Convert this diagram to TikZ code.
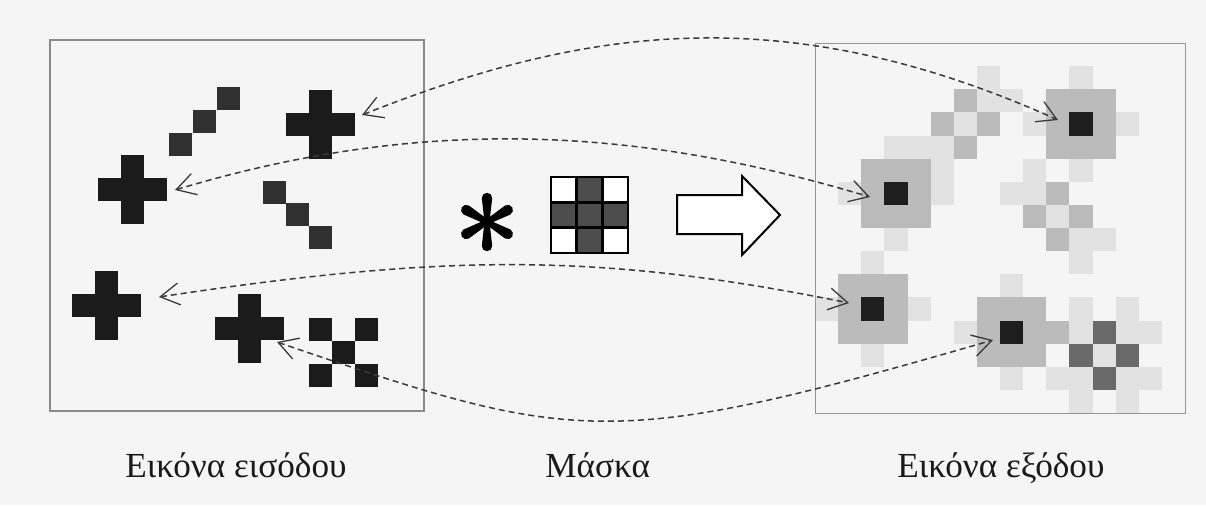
\documentclass[tikz,border=0pt]{standalone}
\usepackage{fontspec}
\setmainfont{Liberation Serif}
\usetikzlibrary{arrows.meta}
\definecolor{bg}{HTML}{F5F5F5}
\definecolor{inblack}{HTML}{1B1B1B}
\definecolor{instair}{HTML}{303030}
\definecolor{vone}{HTML}{E2E2E2}
\definecolor{vtwo}{HTML}{BBBBBB}
\definecolor{vthree}{HTML}{6A6A6A}
\definecolor{vfive}{HTML}{1E1E1E}
\definecolor{maskgray}{HTML}{4D4D4D}
\definecolor{boxgray}{HTML}{8A8A8A}
\definecolor{linkgray}{HTML}{3A3A3A}
\definecolor{txt}{HTML}{1A1A1A}
\newcommand\incell[3]{\fill[#3] (#1,#2) rectangle ++(23,23);}
\newcommand\inplus[3]{\foreach \dx/\dy in {0/0,-23/0,23/0,0/-23,0/23}{\fill[#3] ({#1+\dx},{#2+\dy}) rectangle ++(23,23);}}
\newcommand\outcell[3]{\fill[#3] ({815+(#1)*23.125},{43+(#2)*23.125}) rectangle ++(23.125,23.125);}
\tikzset{
  panel/.style={draw=boxgray, line width=0.7pt},
  link/.style={draw=linkgray, line width=0.75pt, dash pattern=on 3pt off 2pt,
    >={Straight Barb[length=9.5pt,width=11pt,line width=0.65pt]}, <->},
  lbl/.style={font=\fontsize{17.6}{21}\selectfont, inner sep=0pt, text=txt},
  maskline/.style={draw=black, line width=1.3pt},
}
\begin{document}
\begin{tikzpicture}[x=0.5pt,y=-0.5pt]
\useasboundingbox (0,0) rectangle (1206,505);
\fill[bg] (0,0) rectangle (1206,505);

% ---------- input image ----------
\foreach \x/\y in {169/133,193/110,217/87,263/181,286/203,309/226}{\incell{\x}{\y}{instair}}
\inplus{309}{113}{inblack}
\inplus{121}{178}{inblack}
\inplus{95}{294}{inblack}
\inplus{238}{317}{inblack}
\foreach \x/\y in {309/318,355/318,332/341,309/364,355/364}{\incell{\x}{\y}{inblack}}
\draw[panel] (50,40) rectangle (424,411);

% ---------- output image ----------
\foreach \cx/\cy in {11/3,3/6,2/11,8/12}{
  \foreach \i in {-1,0,1}{\foreach \j in {-1,0,1}{\outcell{\cx+\i}{\cy+\j}{vtwo}}}
  \outcell{\cx}{\cy}{vfive}
}
\foreach \c/\r in {6/4,5/3,7/3,6/2,10/6,9/7,11/7,10/8,10/12}{\outcell{\c}{\r}{vtwo}}
\foreach \c/\r in {12/12,11/13,13/13,12/14}{\outcell{\c}{\r}{vthree}}
\foreach \c/\r in {11/1,9/3,13/3,11/5, 3/4,1/6,5/6,3/8, 2/9,0/11,4/11,2/13, 8/10,6/12,8/14,
  5/4,6/3,7/2,4/4,5/5,8/2,7/1, 9/6,10/7,11/8,8/6,9/5,12/8,11/9,
  11/12,13/12,12/13,11/14,13/14,11/11,13/11,14/12,10/14,14/14,11/15,13/15}{\outcell{\c}{\r}{vone}}
\draw[draw=boxgray!90, line width=0.5pt] (815,43) rectangle (1185,413);

% ---------- convolution sign ----------
\begin{scope}[shift={(487,222)}]
  \foreach \a in {30,90,150,210,270,330}{
    \fill[black, rotate=\a] (0,-2.5) -- (24,-5.2) arc(-90:90:5.2) -- (0,2.5) -- cycle;
  }
  \fill[black] (0,0) circle (5);
\end{scope}

% ---------- mask ----------
\fill[white] (551,177) rectangle (628,253);
\foreach \i/\j in {1/0,0/1,1/1,2/1,1/2}{
  \fill[maskgray] ({551+\i*25.67},{177+\j*25.33}) rectangle ++(25.67,25.33);
}
\draw[maskline] (551,177) rectangle (628,253);
\draw[maskline] (576.67,177) -- (576.67,253) (602.33,177) -- (602.33,253)
                (551,202.33) -- (628,202.33) (551,227.67) -- (628,227.67);

% ---------- block arrow ----------
\draw[fill=white, line width=1pt, line join=miter]
  (677,195) -- (742,195) -- (742,176) -- (780,215) -- (742,255) -- (742,234) -- (677,234) -- cycle;

% ---------- correspondences ----------
\coordinate (inA) at (362,115);  \coordinate (outA) at (1058,120);
\coordinate (inB) at (175,190);  \coordinate (outB) at (870,197);
\coordinate (inC) at (159,297);  \coordinate (outC) at (849,303);
\coordinate (inD) at (277,342);  \coordinate (outD) at (993,340);
\draw[link] (inA) .. controls (583,27) and (784,-3) .. (outA);
\draw[link] (inB) .. controls (438,111) and (653,132) .. (outB);
\draw[link] (inC) .. controls (450,253) and (601,253) .. (outC);
\draw[link] (inD) .. controls (576,444) and (608,451.5) .. (outD);

% ---------- labels ----------
\node[lbl, anchor=base west] (tin) at (125,477) {Εικόνα εισόδου};
\node[lbl, anchor=base west] (tmask) at (545,477) {Μάσκα};
\node[lbl, anchor=base west] (tout) at (897,477) {Εικόνα εξόδου};
\end{tikzpicture}
\end{document}
